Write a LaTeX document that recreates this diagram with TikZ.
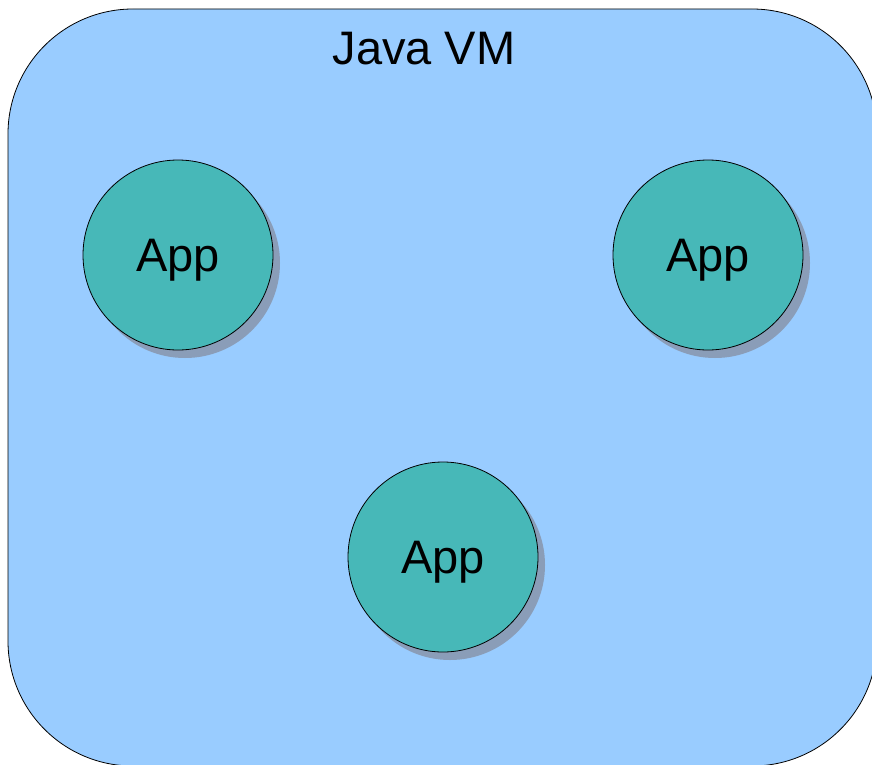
\documentclass[tikz,border=0pt]{standalone}
\usepackage{fontspec}
\setmainfont{Liberation Sans}
\usetikzlibrary{shadows}
\definecolor{vmblue}{HTML}{99CCFF}
\definecolor{appteal}{HTML}{47B8B8}
\definecolor{shadowgray}{HTML}{8A9DB8}
\begin{document}
\begin{tikzpicture}[
        x=1pt, y=-1pt,
        vmbox/.style={draw, fill=vmblue, line width=0.8pt, rounded corners=125pt, minimum width=869pt, minimum height=757pt},
        app/.style={circle, draw, fill=appteal, line width=0.8pt, minimum size=190pt, text depth=0pt, font=\fontsize{47}{56}\selectfont,
            drop shadow={shadow xshift=7pt, shadow yshift=-8pt, fill=shadowgray, opacity=1}}
        ]
        \useasboundingbox (0,0) rectangle (872,765);
        \node[vmbox] (vm) at (442.5,387.5) {};
        \node[font=\fontsize{47}{56}\selectfont] (title) at (424,49) {Java VM};
        \node[app] (app1) at (178,255) {App};
        \node[app] (app2) at (708,255) {App};
        \node[app] (app3) at (443,557) {App};
        \end{tikzpicture}
\end{document}
